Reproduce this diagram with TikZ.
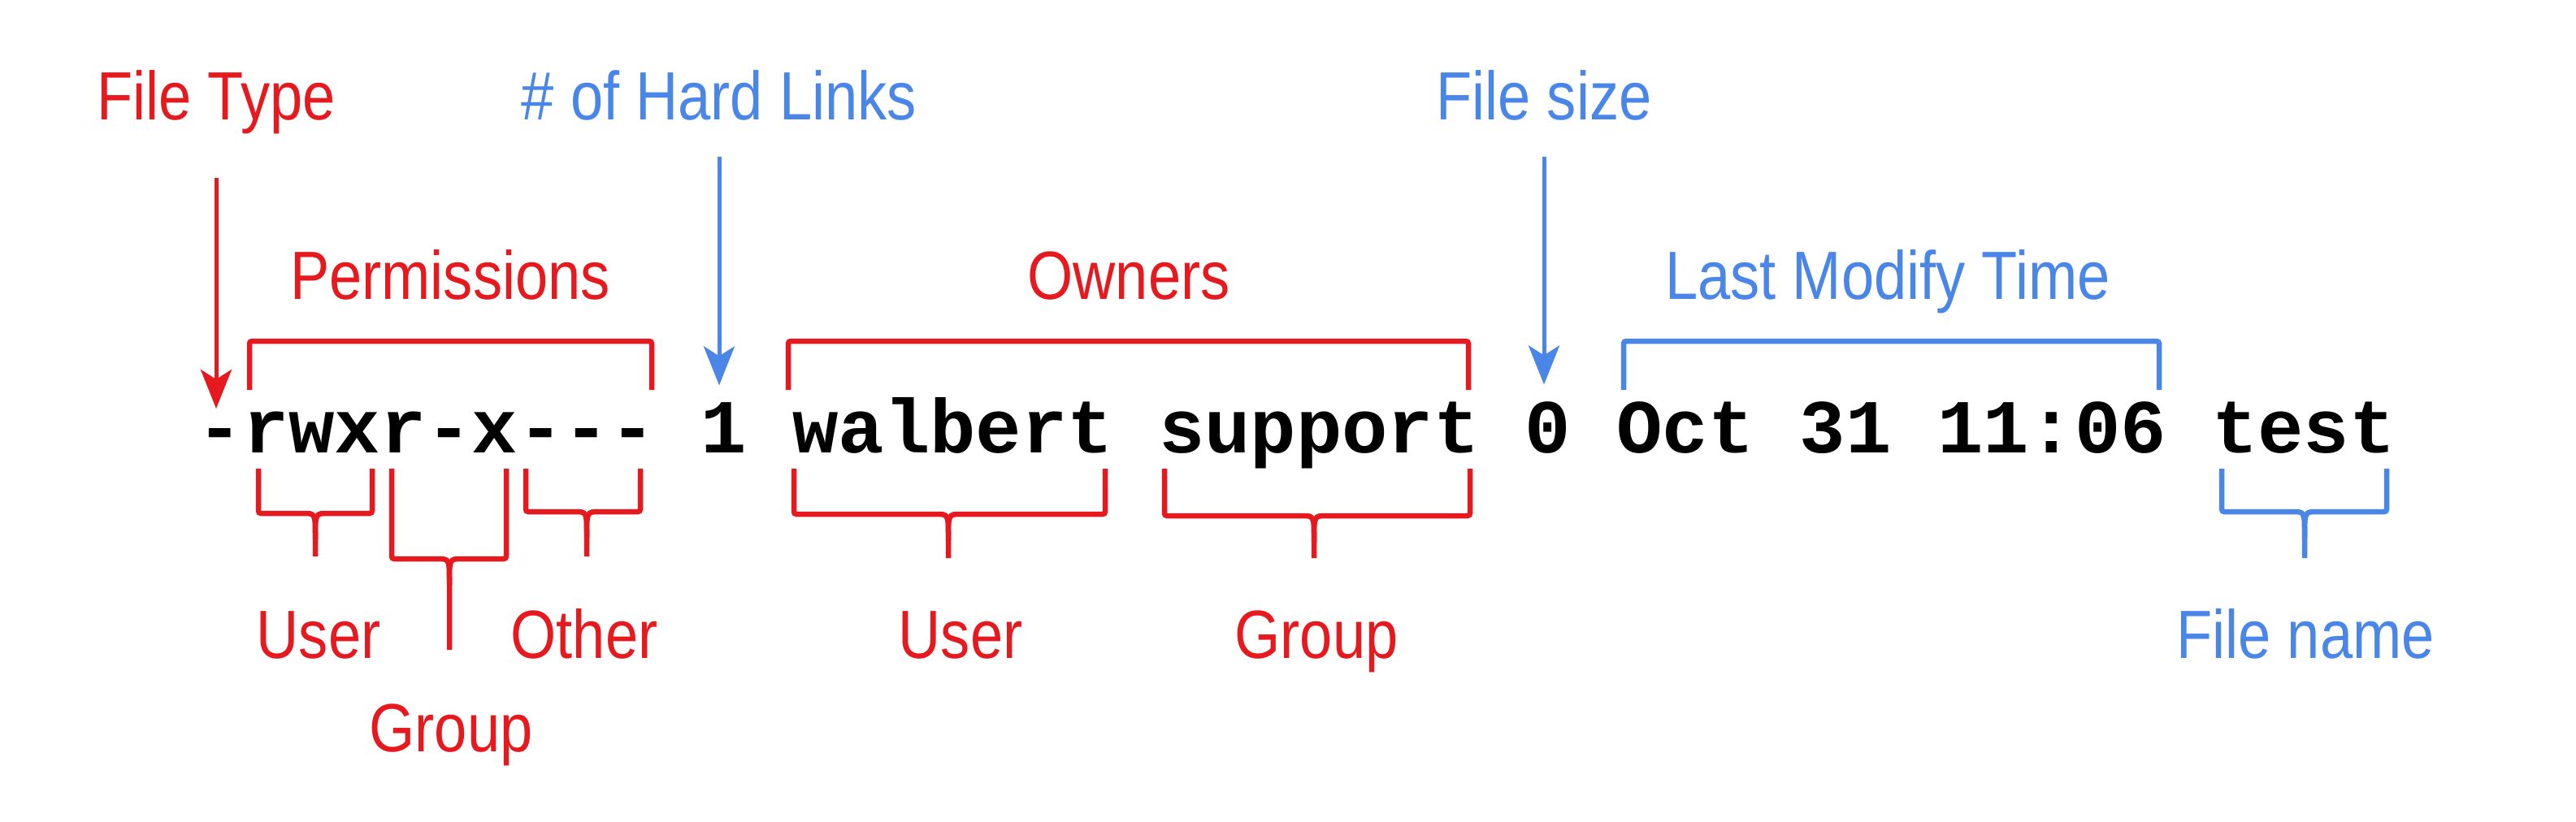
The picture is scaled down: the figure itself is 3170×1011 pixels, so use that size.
\documentclass[tikz,border=0pt]{standalone}
\usepackage{fontspec}
\setmonofont{Liberation Mono}
\newfontfamily\labfont{Liberation Sans}[FakeStretch=0.86]
\usetikzlibrary{arrows.meta}
\definecolor{labred}{RGB}{230,25,30}
\definecolor{labblue}{RGB}{74,134,232}
\tikzset{
  lsfont/.style={font=\ttfamily\bfseries\fontsize{26.72}{30}\selectfont, inner sep=0pt, anchor=base west},
  lab/.style={font=\labfont\fontsize{23.9}{28}\selectfont, inner sep=0pt, anchor=base},
  redlab/.style={lab, text=labred},
  bluelab/.style={lab, text=labblue},
  pointer/.style={line width=0.05cm, -{Stealth[length=0.48cm,width=0.38cm,inset=0.12cm]}},
  brack/.style={line width=0.065cm, rounded corners=0.03cm}
}

\begin{document}
\begin{tikzpicture}[x=0.01cm,y=-0.01cm]
\path[fill=white] (0,0) rectangle (3170,1011);

% the ls line, one node per field
\foreach \nm/\i/\txt in {permf/0/-rwxr-x---, linksf/11/1, userf/13/walbert, groupf/21/support, sizef/29/0, monf/31/Oct, dayf/35/31, timef/38/11:06, namef/44/test}
  \node[lsfont] (\nm) at ({242+\i*56.35},557) {\txt};

\node[redlab] (typelab) at (266,147) {File Type};
\node[bluelab] (linkslab) at (885,147) {\# of Hard Links};
\node[bluelab] (sizelab) at (1900,147) {File size};

\node[redlab] (permlab) at (554,368) {Permissions};
\node[redlab] (ownerslab) at (1389,368) {Owners};
\node[bluelab] (timelab) at (2323,368) {Last Modify Time};

\node[redlab] (puserlab) at (392,810) {User};
\node[redlab] (pgrouplab) at (555,925) {Group};
\node[redlab] (potherlab) at (719,810) {Other};
\node[redlab] (ouserlab) at (1182,810) {User};
\node[redlab] (ogrouplab) at (1620,810) {Group};
\node[bluelab] (namelab) at (2837,810) {File name};

\coordinate (typetip) at (266,503);
\draw[pointer,labred] (typelab.base) ++(0,72) -- (typetip);
\draw[pointer,labblue,shorten >=0.2cm] (linkslab.base) ++(0,46) -- (linkslab.base |- linksf.north);
\draw[pointer,labblue,shorten >=0.2cm] (sizelab.base) ++(0,46) -- (sizelab.base |- sizef.north);

% brackets above
\draw[brack,labred] (307,480) |- (802,420) -- (802,480);
\draw[brack,labred] (970,480) |- (1807,420) -- (1807,480);
\draw[brack,labblue] (1998,480) |- (2657,420) -- (2657,480);

% brackets below
\foreach \xa/\xb/\xm/\yb/\ye/\col in {318/458/388/632/685/labred, 482/623/553/688/800/labred, 647/788/722/630/685/labred, 977/1360/1167/633/687/labred, 1433/1809/1617/635/687/labred, 2734/2937/2836/630/687/labblue}
  {
    \draw[brack,\col] (\xa,577) |- (\xm-18,\yb) .. controls (\xm,\yb) .. (\xm,\yb+32) -- (\xm,\ye);
    \draw[brack,\col] (\xb,577) |- (\xm+18,\yb) .. controls (\xm,\yb) .. (\xm,\yb+32);
  }

\end{tikzpicture}
\end{document}
